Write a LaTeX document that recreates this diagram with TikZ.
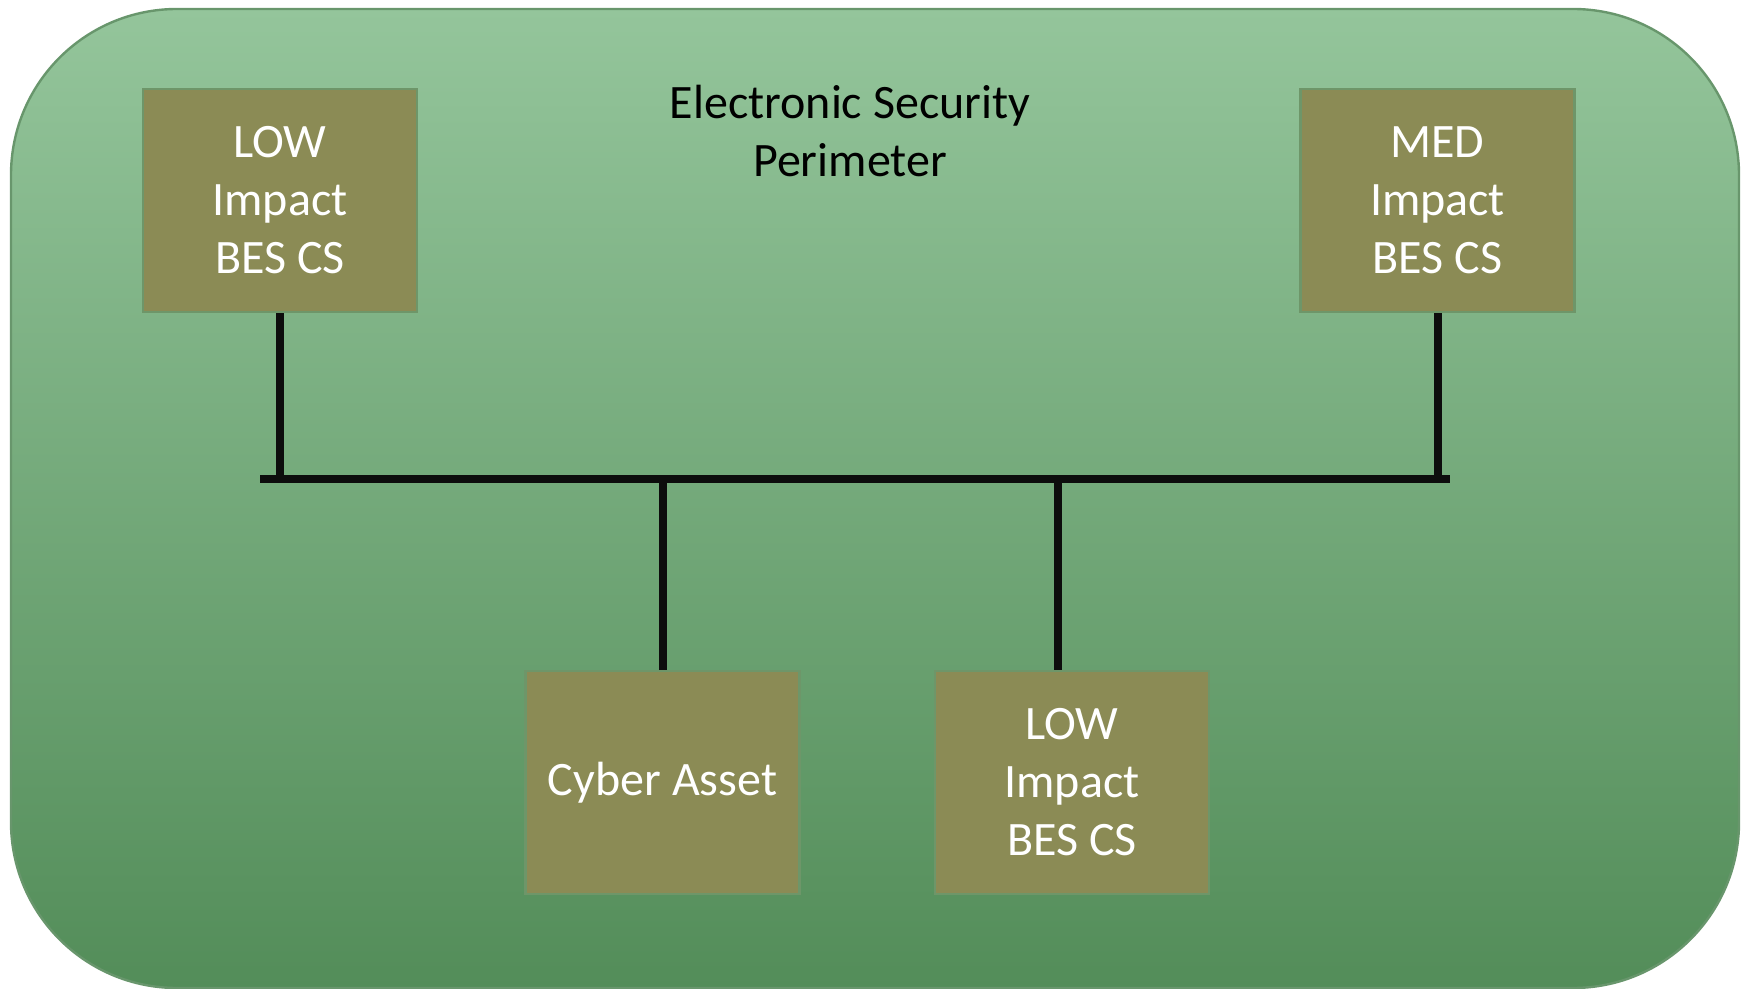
\documentclass[tikz,border=0pt]{standalone}
\usepackage{fontspec}
\setmainfont{Carlito}
\definecolor{bgtop}{RGB}{148,197,155}
\definecolor{bgbot}{RGB}{83,141,89}
\definecolor{bgedge}{RGB}{104,150,108}
\definecolor{boxfill}{RGB}{139,139,85}
\definecolor{boxedge}{RGB}{110,150,105}
\begin{document}
\begin{tikzpicture}[x=0.5pt,y=-0.5pt,
  cs/.style={draw=boxedge, line width=1.2pt, fill=boxfill, minimum width=137pt, minimum height=111.5pt,
    inner sep=0pt, text=white, align=center, font=\fontsize{24}{29}\selectfont},
  wire/.style={line width=4pt, draw=black!95}]
\useasboundingbox (0,0) rectangle (1741,989);
\path[draw=bgedge, line width=1.2pt, top color=bgtop, bottom color=bgbot, rounded corners=83pt]
  (11,9) rectangle (1739,988);
\node[font=\fontsize{24}{29}\selectfont, align=center, text=black] (title) at (850,131) {Electronic Security\\Perimeter};
\node[cs] (low1) at (280,200.5) {LOW\\Impact\\BES CS};
\node[cs] (med) at (1437.5,200.5) {MED\\Impact\\BES CS};
\node[cs] (cyber) at (662.5,782.5) {Cyber Asset};
\node[cs] (low2) at (1072,782.5) {LOW\\Impact\\BES CS};
\coordinate (busL) at (260,479);
\coordinate (busR) at (1450,479);
\coordinate (tap2) at (1058,479);
\draw[wire] (busL) -- (busR);
\draw[wire] (low1.south) -- (low1.south |- busL);
\draw[wire] (med.south) -- (med.south |- busL);
\draw[wire] (cyber.north |- busL) -- (cyber.north);
\draw[wire] (tap2) -- (tap2 |- low2.north);
\end{tikzpicture}
\end{document}
